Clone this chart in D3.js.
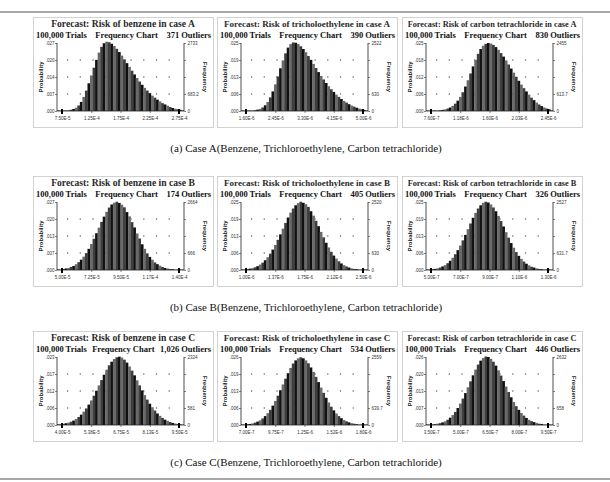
<!DOCTYPE html>
<html>
<head>
<meta charset="utf-8">
<script src="https://cdn.jsdelivr.net/npm/d3@7"></script>
<style>
  body { margin: 0; background: #fff; }
  svg { display: block; }
</style>
</head>
<body>
<div id="chart"></div>
<script>
// panel order: row A, row B, row C; left to right benzene, tricholoethylene, carbon tetrachloride
let titles = [
    "Forecast: Risk of benzene in case A", "Forecast: Risk of tricholoethylene in case A", "Forecast: Risk of carbon tetrachloride in case A",
    "Forecast: Risk of benzene in case B", "Forecast: Risk of tricholoethylene in case B", "Forecast: Risk of carbon tetrachloride in case B",
    "Forecast: Risk of benzene in case C", "Forecast: Risk of tricholoethylene in case C", "Forecast: Risk of carbon tetrachloride in case C"
];

let outliers = ["371", "390", "830", "174", "405", "326", "1,026", "534", "446"];

let probTicks = [
    [".000", ".007", ".014", ".020", ".027"],
    [".000", ".006", ".013", ".019", ".025"],
    [".000", ".006", ".012", ".018", ".025"],
    [".000", ".007", ".013", ".020", ".027"],
    [".000", ".006", ".013", ".019", ".025"],
    [".000", ".006", ".013", ".019", ".025"],
    [".000", ".006", ".012", ".017", ".023"],
    [".000", ".006", ".013", ".019", ".026"],
    [".000", ".007", ".013", ".020", ".026"]
];

let freqTicks = [
    ["0", "683.2", "", "", "2733"],
    ["0", "630", "", "", "2522"],
    ["0", "613.7", "", "", "2455"],
    ["0", "666", "", "", "2664"],
    ["0", "630", "", "", "2520"],
    ["0", "631.7", "", "", "2527"],
    ["0", "581", "", "", "2324"],
    ["0", "639.7", "", "", "2559"],
    ["0", "658", "", "", "2632"]
];

let xTicks = [
    ["7.50E-5", "1.25E-4", "1.75E-4", "2.25E-4", "2.75E-4"],
    ["1.60E-6", "2.45E-6", "3.30E-6", "4.15E-6", "5.00E-6"],
    ["7.60E-7", "1.18E-6", "1.60E-6", "2.03E-6", "2.45E-6"],
    ["5.00E-5", "7.25E-5", "9.50E-5", "1.17E-4", "1.40E-4"],
    ["1.00E-6", "1.37E-6", "1.75E-6", "2.12E-6", "2.50E-6"],
    ["5.00E-7", "7.00E-7", "9.00E-7", "1.10E-6", "1.30E-6"],
    ["4.00E-5", "5.38E-5", "6.75E-5", "8.13E-5", "9.50E-5"],
    ["7.00E-7", "9.75E-7", "1.25E-6", "1.52E-6", "1.80E-6"],
    ["3.50E-7", "5.00E-7", "6.50E-7", "8.00E-7", "9.50E-7"]
];

// histogram probabilities, 50 bins across each chart
let probA1 = [0.0000,0.0001,0.0001,0.0002,0.0003, 0.0005,0.0008,0.0013,0.0022,0.0036,
    0.0056,0.0081,0.0110,0.0141,0.0172, 0.0203,0.0232,0.0255,0.0269,0.0275,
    0.0273,0.0267,0.0258,0.0247,0.0234, 0.0220,0.0205,0.0190,0.0175,0.0160,
    0.0145,0.0131,0.0117,0.0104,0.0092, 0.0081,0.0071,0.0061,0.0053,0.0045,
    0.0038,0.0031,0.0026,0.0021,0.0016, 0.0012,0.0009,0.0007,0.0005,0.0003];
let probA2 = [0.0000,0.0000,0.0001,0.0001,0.0002, 0.0003,0.0005,0.0008,0.0013,0.0021,
    0.0033,0.0050,0.0072,0.0098,0.0127, 0.0157,0.0186,0.0212,0.0233,0.0246,
    0.0252,0.0251,0.0246,0.0238,0.0228, 0.0216,0.0202,0.0188,0.0173,0.0158,
    0.0143,0.0129,0.0116,0.0103,0.0091, 0.0080,0.0070,0.0060,0.0052,0.0044,
    0.0037,0.0031,0.0025,0.0020,0.0016, 0.0012,0.0009,0.0006,0.0004,0.0002];
let probA3 = [0.0000,0.0000,0.0001,0.0001,0.0002, 0.0003,0.0004,0.0006,0.0009,0.0013,
    0.0019,0.0027,0.0038,0.0052,0.0069, 0.0090,0.0113,0.0138,0.0164,0.0188,
    0.0210,0.0228,0.0240,0.0247,0.0250, 0.0248,0.0243,0.0235,0.0225,0.0213,
    0.0200,0.0186,0.0171,0.0156,0.0141, 0.0126,0.0111,0.0097,0.0084,0.0072,
    0.0060,0.0049,0.0040,0.0031,0.0024, 0.0018,0.0013,0.0009,0.0006,0.0003];
let probB1 = [0.0002,0.0002,0.0004,0.0006,0.0008, 0.0012,0.0016,0.0023,0.0031,0.0041,
    0.0053,0.0067,0.0084,0.0103,0.0124, 0.0146,0.0168,0.0191,0.0212,0.0231,
    0.0248,0.0260,0.0267,0.0271,0.0266, 0.0259,0.0249,0.0230,0.0213,0.0190,
    0.0169,0.0145,0.0125,0.0102,0.0084, 0.0066,0.0052,0.0041,0.0030,0.0023,
    0.0017,0.0012,0.0008,0.0006,0.0004, 0.0003,0.0002,0.0001,0.0001,0.0000];
let probB2 = [0.0001,0.0002,0.0003,0.0005,0.0007, 0.0010,0.0014,0.0020,0.0027,0.0036,
    0.0047,0.0060,0.0075,0.0092,0.0111, 0.0131,0.0152,0.0173,0.0193,0.0211,
    0.0226,0.0238,0.0246,0.0251,0.0247, 0.0242,0.0232,0.0216,0.0200,0.0181,
    0.0161,0.0140,0.0120,0.0100,0.0083, 0.0067,0.0053,0.0042,0.0032,0.0024,
    0.0018,0.0013,0.0009,0.0006,0.0004, 0.0003,0.0002,0.0001,0.0001,0.0000];
let probB3 = [0.0001,0.0002,0.0003,0.0004,0.0006, 0.0009,0.0013,0.0018,0.0025,0.0034,
    0.0045,0.0058,0.0073,0.0090,0.0109, 0.0129,0.0150,0.0171,0.0192,0.0210,
    0.0226,0.0238,0.0247,0.0251,0.0248, 0.0241,0.0230,0.0216,0.0199,0.0180,
    0.0160,0.0139,0.0119,0.0099,0.0082, 0.0066,0.0052,0.0041,0.0031,0.0023,
    0.0017,0.0012,0.0009,0.0006,0.0004, 0.0003,0.0002,0.0001,0.0001,0.0000];
let probC1 = [0.0002,0.0003,0.0004,0.0006,0.0008, 0.0011,0.0015,0.0020,0.0027,0.0035,
    0.0045,0.0056,0.0069,0.0083,0.0099, 0.0116,0.0134,0.0152,0.0170,0.0187,
    0.0202,0.0214,0.0223,0.0229,0.0231, 0.0228,0.0221,0.0211,0.0198,0.0184,
    0.0168,0.0151,0.0134,0.0117,0.0101, 0.0086,0.0072,0.0060,0.0049,0.0039,
    0.0031,0.0024,0.0018,0.0014,0.0010, 0.0007,0.0005,0.0003,0.0002,0.0001];
let probC2 = [0.0001,0.0002,0.0003,0.0004,0.0006, 0.0009,0.0013,0.0018,0.0025,0.0034,
    0.0045,0.0058,0.0074,0.0092,0.0112, 0.0133,0.0155,0.0177,0.0198,0.0218,
    0.0235,0.0247,0.0255,0.0259,0.0255, 0.0247,0.0236,0.0220,0.0203,0.0184,
    0.0164,0.0143,0.0123,0.0104,0.0086, 0.0070,0.0056,0.0044,0.0034,0.0026,
    0.0019,0.0014,0.0010,0.0007,0.0005, 0.0003,0.0002,0.0001,0.0001,0.0000];
let probC3 = [0.0001,0.0001,0.0002,0.0003,0.0005, 0.0007,0.0010,0.0014,0.0020,0.0028,
    0.0038,0.0050,0.0065,0.0082,0.0101, 0.0122,0.0144,0.0167,0.0190,0.0212,
    0.0231,0.0246,0.0256,0.0262,0.0260, 0.0253,0.0242,0.0227,0.0209,0.0189,
    0.0168,0.0147,0.0126,0.0106,0.0088, 0.0072,0.0058,0.0046,0.0036,0.0027,
    0.0020,0.0015,0.0011,0.0008,0.0005, 0.0004,0.0002,0.0001,0.0001,0.0000];
let probs = [probA1, probA2, probA3, probB1, probB2, probB3, probC1, probC2, probC3];

let captions = [
    "(a) Case A(Benzene, Trichloroethylene, Carbon tetrachloride)",
    "(b) Case B(Benzene, Trichloroethylene, Carbon tetrachloride)",
    "(c) Case C(Benzene, Trichloroethylene, Carbon tetrachloride)"
];

let width = 610, height = 482;
let rowTop = [17, 176, 331];
let colLeft = [33, 217, 402];
let boxW = 180, boxH = 110;
let plot = { left: 24, right: 151, top: 26, bottom: 94 };
let titleSize = ["9.6px", "9px", "8.3px"];   // by column, the title widths differ in the scan
let serif = "'Liberation Serif', 'Times New Roman', serif";
let sans = "'Liberation Sans', Arial, sans-serif";

var svg = d3.select("#chart")
    .append("svg")
    .attr("width", width)
    .attr("height", height);

svg.append("rect").attr("width", width).attr("height", height).attr("fill", "#fff");

// horizontal rules
[12, 479].forEach(y => {
    svg.append("line")
        .attr("x1", 0).attr("x2", width)
        .attr("y1", y).attr("y2", y)
        .style("stroke", "#8a8a8a")
        .style("stroke-width", 1.5);
});

svg.selectAll("text.caption")
    .data(captions)
    .enter()
    .append("text")
    .attr("class", "caption")
    .attr("x", 306)
    .attr("y", (d, i) => rowTop[i] + boxH + 25)
    .attr("text-anchor", "middle")
    .style("font-family", serif)
    .style("font-size", "11px")
    .style("fill", "#111")
    .text(d => d);

function drawPanel(i) {
    let g = svg.append("g")
        .attr("transform", "translate(" + colLeft[i % 3] + "," + rowTop[Math.floor(i / 3)] + ")");

    g.append("rect")
        .attr("x", 0.5).attr("y", 0.5)
        .attr("width", boxW).attr("height", boxH)
        .attr("fill", "#fff")
        .style("stroke", "#c8c8c8")
        .style("stroke-width", 0.8);

    g.append("text")
        .attr("x", boxW / 2).attr("y", 10)
        .attr("text-anchor", "middle")
        .style("font-family", serif)
        .style("font-weight", "bold")
        .style("font-size", titleSize[i % 3])
        .style("fill", "#2a2a2a")
        .text(titles[i]);

    let row = g.append("g")
        .style("font-family", serif)
        .style("font-weight", "bold")
        .style("font-size", "8.5px")
        .style("fill", "#111");
    let t1 = row.append("text").attr("x", 3).attr("y", 21).text("100,000 Trials");
    let t3 = row.append("text").attr("x", boxW - 2).attr("y", 21).attr("text-anchor", "end").text(outliers[i] + " Outliers");
    let end1 = 3 + t1.node().getComputedTextLength();
    let start3 = boxW - 2 - t3.node().getComputedTextLength();
    row.append("text").attr("x", (end1 + start3) / 2).attr("y", 21).attr("text-anchor", "middle").text("Frequency Chart");

    let ymax = parseFloat(probTicks[i][4]);
    let y = d3.scaleLinear().domain([0, ymax]).range([plot.bottom, plot.top]);
    let yPos = d3.scalePoint().domain(d3.range(5)).range([plot.bottom, plot.top]);
    let xBand = d3.scaleBand().domain(d3.range(probs[i].length)).range([plot.left, plot.right]).padding(0);
    let xTick = d3.scalePoint().domain(xTicks[i]).range([plot.left + 5, plot.right - 5]);

    // dotted grid
    g.selectAll("line.grid")
        .data(d3.range(1, 4))
        .enter()
        .append("line")
        .attr("class", "grid")
        .attr("x1", plot.left + 10).attr("x2", plot.right - 4)
        .attr("y1", d => yPos(d)).attr("y2", d => yPos(d))
        .style("stroke", "#333")
        .style("stroke-width", 1)
        .style("stroke-dasharray", "1.2,11.5");

    // histogram bars
    g.selectAll("rect.bar")
        .data(probs[i])
        .enter()
        .append("rect")
        .attr("class", "bar")
        .attr("x", (d, k) => xBand(k))
        .attr("width", xBand.bandwidth() + 0.2)
        .attr("y", d => Math.min(y(d), plot.bottom - 0.5))
        .attr("height", d => Math.max(plot.bottom - y(d), 0.5))
        .attr("fill", (d, k) => k % 3 == 0 ? "#111" : (k % 3 == 1 ? "#6a6a6a" : "#3e3e3e"));

    // plot frame
    g.append("path")
        .attr("d", "M" + plot.left + "," + plot.top + "V" + plot.bottom + "H" + plot.right + "V" + plot.top)
        .attr("fill", "none")
        .style("stroke", "#222")
        .style("stroke-width", 0.8);

    let leftAxis = d3.axisLeft(yPos).tickSize(2).tickFormat(k => probTicks[i][k]);
    g.append("g")
        .attr("transform", "translate(" + plot.left + ",0)")
        .call(leftAxis)
        .call(a => a.select(".domain").remove())
        .call(a => a.selectAll("text").attr("x", -2.5).style("font-size", "4.5px").style("font-family", sans).style("fill", "#333"))
        .call(a => a.selectAll("line").style("stroke", "#333").style("stroke-width", 0.6));

    let rightAxis = d3.axisRight(yPos).tickSize(2).tickFormat(k => freqTicks[i][k]);
    g.append("g")
        .attr("transform", "translate(" + plot.right + ",0)")
        .call(rightAxis)
        .call(a => a.select(".domain").remove())
        .call(a => a.selectAll("text").attr("x", 3.5).style("font-size", "4.5px").style("font-family", sans).style("fill", "#333"))
        .call(a => a.selectAll("line").style("stroke", "#333").style("stroke-width", 0.6));

    let bottomAxis = d3.axisBottom(xTick).tickSize(2);
    g.append("g")
        .attr("transform", "translate(0," + plot.bottom + ")")
        .call(bottomAxis)
        .call(a => a.select(".domain").remove())
        .call(a => a.selectAll("text").attr("y", 6).style("font-size", "4.5px").style("font-family", sans).style("fill", "#333"))
        .call(a => a.selectAll("line").style("stroke", "#333").style("stroke-width", 0.6));

    // certainty grabbers at both ends
    [xTicks[i][0], xTicks[i][4]].forEach(t => {
        g.append("rect")
            .attr("x", xTick(t) - 1).attr("y", plot.bottom - 2)
            .attr("width", 2).attr("height", 5)
            .attr("fill", "#000");
    });

    g.append("text")
        .attr("transform", "translate(10," + (plot.top + plot.bottom) / 2 + ")rotate(-90)")
        .attr("text-anchor", "middle")
        .style("font-family", sans)
        .style("font-weight", "bold")
        .style("font-size", "6px")
        .style("fill", "#222")
        .text("Probability");

    g.append("text")
        .attr("transform", "translate(170," + (plot.top + plot.bottom) / 2 + ")rotate(90)")
        .attr("text-anchor", "middle")
        .style("font-family", sans)
        .style("font-weight", "bold")
        .style("font-size", "6px")
        .style("fill", "#222")
        .text("Frequency");
}

for (let i = 0; i < 9; i++) {
    drawPanel(i);
}
</script>
</body>
</html>
